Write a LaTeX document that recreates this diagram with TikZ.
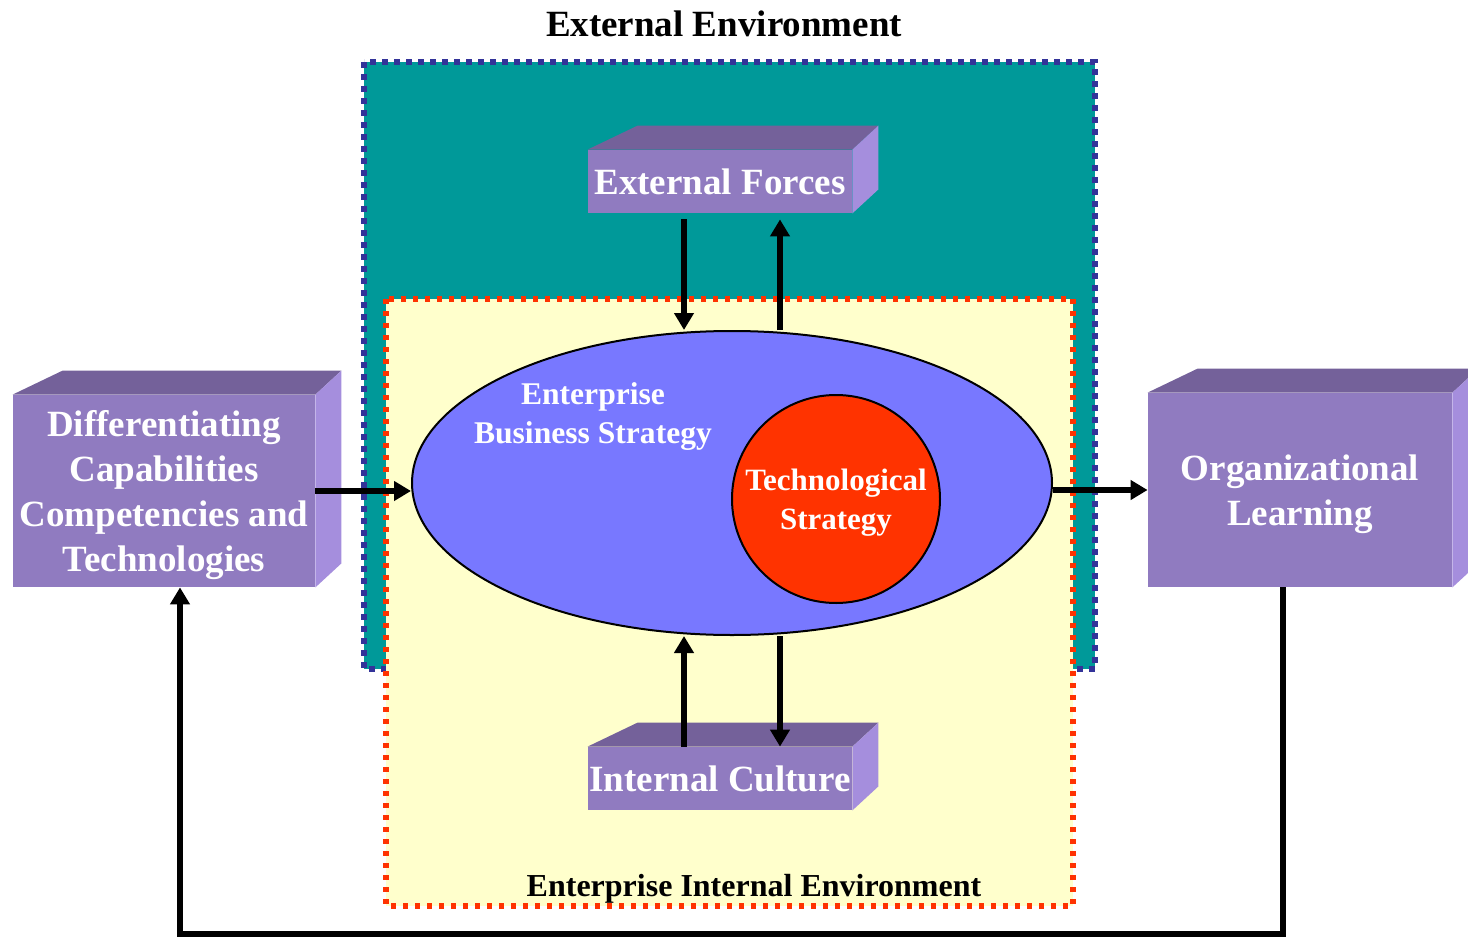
\documentclass[tikz,border=0pt]{standalone}
\usepackage{fontspec}
\setmainfont{Liberation Serif}
\usepackage{tikz}
\usetikzlibrary{shapes.geometric, arrows.meta, calc}
\definecolor{EnvTeal}{RGB}{0,153,153}
\definecolor{EnvNavy}{RGB}{51,51,153}
\definecolor{IntYellow}{RGB}{255,255,204}
\definecolor{IntRed}{RGB}{255,51,0}
\definecolor{StratBlue}{RGB}{120,120,255}
\definecolor{CubeFront}{RGB}{144,123,192}
\definecolor{CubeTop}{RGB}{116,97,154}
\definecolor{CubeSide}{RGB}{165,142,221}

\begin{document}
\begin{tikzpicture}[x=0.5pt, y=-0.5pt,
          cube/.style={rectangle, fill=CubeFront, inner sep=0pt, align=center,
                       text depth=0pt, text=white,
                       font=\bfseries\fontsize{18.5}{22.5}\selectfont},
          cubetop/.style={fill=CubeTop},
          cubeside/.style={fill=CubeSide},
          title/.style={font=\bfseries\fontsize{18.5}{22.5}\selectfont},
          arr/.style={-{Triangle[length=8.5pt, width=9.5pt]}, line width=3pt},
          navydots/.style={draw=EnvNavy, line width=2.8pt, dash pattern=on 3pt off 3pt},
          reddots/.style={draw=IntRed, line width=2.8pt, dash pattern=on 2.5pt off 3.5pt}
        ]
        \path[use as bounding box, clip] (0,0) rectangle (1468,937);

        % environments
        \fill[EnvTeal] (364,62) rectangle (1095,669);
        \draw[navydots] (364,62) rectangle (1095,669);
        \fill[IntYellow] (386,299) rectangle (1073,906);
        \draw[reddots] (386,299) rectangle (1073,906);

        \node[title] (extenv) at (724,24) {External Environment};
        \node[font=\bfseries\fontsize{16}{19}\selectfont] (intenv) at (754,889)
              {Enterprise Internal Environment};

        % boxes
        \node[cube, minimum width=151pt, minimum height=96pt] (dcc) at (164,491)
              {Differentiating\\Capabilities\\Competencies and\\Technologies};
        \node[cube, minimum width=152pt, minimum height=97pt] (org) at (1300,490)
              {Organizational\\Learning};
        \node[cube, minimum width=132pt, minimum height=31.5pt] (ext) at (720,181.5)
              {External Forces};
        \node[cube, minimum width=132pt, minimum height=31.5pt] (int) at (720,778.5)
              {Internal Culture};

        \foreach \c in {dcc, org, ext, int} {
          \fill[cubetop] (\c.north west) -- ++(50,-24)
                -- ($(\c.north east)+(26,-24)$) -- (\c.north east) -- cycle;
          \fill[cubeside] (\c.north east) -- ++(26,-24)
                -- ($(\c.south east)+(26,-24)$) -- (\c.south east) -- cycle;
        }

        % strategy
        \node[ellipse, draw, line width=1pt, fill=StratBlue,
              minimum width=320pt, minimum height=152pt] (bus) at (732,483) {};
        \node[text=white, align=center,
              font=\bfseries\fontsize{15.8}{19.5}\selectfont] (ebs) at (593,417)
              {Enterprise\\Business Strategy};
        \node[circle, draw, line width=1pt, fill=IntRed, minimum size=104pt,
              inner sep=0pt, text=white, align=center, text depth=0pt,
              font=\bfseries\fontsize{15.5}{19.5}\selectfont] (tec) at (836,499)
              {Technological\\Strategy};

        \draw[arr] ([xshift=-18pt, yshift=-3pt]ext.south) -- ([xshift=-24pt]bus.north);
        \draw[arr] ([xshift=24pt]bus.north) -- ([xshift=30pt, yshift=-3pt]ext.south);
        \draw[arr] ([xshift=-18pt]int.north) -- ([xshift=-24pt]bus.south);
        \draw[arr] ([xshift=24pt]bus.south) -- ([xshift=30pt]int.north);
        \draw[arr] (dcc.east) -- (dcc.east -| bus.west);
        \draw[arr] (bus.east |- org.west) -- (org.west);
        \draw[arr] ([xshift=-8.5pt]org.south) -- ++(0,347) -| ([xshift=8pt]dcc.south);
      \end{tikzpicture}
\end{document}
